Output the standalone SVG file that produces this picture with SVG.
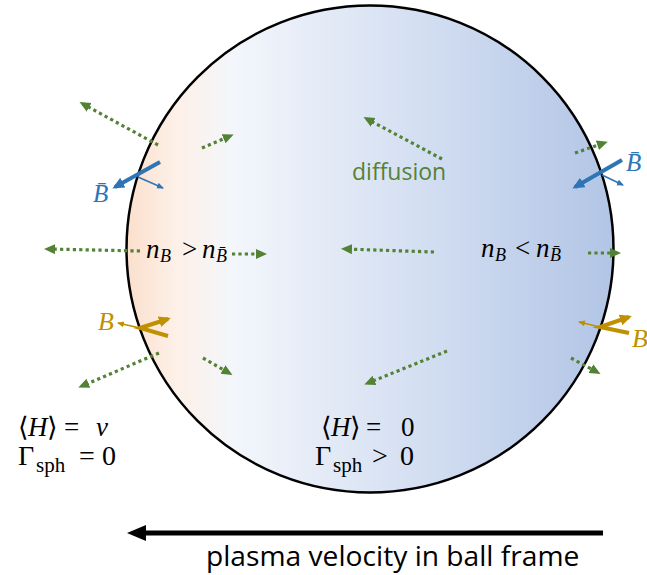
<svg xmlns="http://www.w3.org/2000/svg" width="647" height="575" viewBox="0 0 647 575">
<style>
.dot{fill:none;stroke:#548235;stroke-width:3.2;stroke-dasharray:3.2 3.2;marker-end:url(#gh)}
.math{font-family:"Liberation Serif","DejaVu Serif",serif}
.it{font-style:italic}
.sans{font-family:"Open Sans","Liberation Sans",sans-serif}
</style>
<defs>
<linearGradient id="ballGrad" gradientUnits="userSpaceOnUse" x1="126" y1="0" x2="614" y2="0">
<stop offset="0" stop-color="#fbdfcc"/>
<stop offset="0.1" stop-color="#fdf0e7"/>
<stop offset="0.22" stop-color="#f3f6fb"/>
<stop offset="0.55" stop-color="#d8e2f3"/>
<stop offset="1" stop-color="#b2c5e6"/>
</linearGradient>
<marker id="gh" markerUnits="userSpaceOnUse" markerWidth="14" markerHeight="14" refX="7" refY="5" orient="auto"><path d="M0,0 L11,5 L0,10 z" fill="#548235"/></marker>
<marker id="bh" markerUnits="userSpaceOnUse" markerWidth="16" markerHeight="16" refX="9" refY="5.5" orient="auto"><path d="M0,0 L12,5.5 L0,11 z" fill="#2e75b6"/></marker>
<marker id="bhs" markerUnits="userSpaceOnUse" markerWidth="10" markerHeight="10" refX="6" refY="3" orient="auto"><path d="M0,0 L7,3 L0,6 z" fill="#2e75b6"/></marker>
<marker id="yh" markerUnits="userSpaceOnUse" markerWidth="16" markerHeight="16" refX="9" refY="5.5" orient="auto"><path d="M0,0 L12,5.5 L0,11 z" fill="#bf9000"/></marker>
<marker id="yhs" markerUnits="userSpaceOnUse" markerWidth="10" markerHeight="10" refX="6" refY="3" orient="auto"><path d="M0,0 L7,3 L0,6 z" fill="#bf9000"/></marker>
</defs>
<rect width="647" height="575" fill="#fff"/>

<g id="ball">
<circle cx="370" cy="249" r="243.5" fill="url(#ballGrad)" stroke="#000" stroke-width="2.5"/>
</g>

<g id="connectors">
<path class="dot" d="M158,145 L83,104"/>
<path class="dot" d="M202,148 L230,136"/>
<path class="dot" d="M140,251 L48,249"/>
<path class="dot" d="M232,254 L263,254"/>
<path class="dot" d="M434,252 L345,249"/>
<path class="dot" d="M588,253 L617,253"/>
<path class="dot" d="M575,153 L604,143"/>
<path class="dot" d="M442,159 L367,119"/>
<path class="dot" d="M159,353 L82,386"/>
<path class="dot" d="M203,358 L229,373"/>
<path class="dot" d="M447,351 L368,383"/>
<path class="dot" d="M571,358 L597,372"/>

<path d="M160,162 L115,187" stroke="#2e75b6" stroke-width="4" fill="none" marker-end="url(#bh)"/>
<path d="M138,177 L163,188" stroke="#2e75b6" stroke-width="1.5" fill="none" marker-end="url(#bhs)"/>
<path d="M622,160 L575,187" stroke="#2e75b6" stroke-width="4" fill="none" marker-end="url(#bh)"/>
<path d="M602,175 L623,185" stroke="#2e75b6" stroke-width="1.5" fill="none" marker-end="url(#bhs)"/>

<path d="M168,336 L140,328 L168,319" stroke="#bf9000" stroke-width="4" fill="none" marker-end="url(#yh)"/>
<path d="M140,328 L118,323" stroke="#bf9000" stroke-width="1.5" fill="none" marker-end="url(#yhs)"/>
<path d="M629,333 L600,327 L629,317" stroke="#bf9000" stroke-width="4" fill="none" marker-end="url(#yh)"/>
<path d="M600,327 L579,322" stroke="#bf9000" stroke-width="1.5" fill="none" marker-end="url(#yhs)"/>

<g id="velocity-arrow">
<line x1="603" y1="533" x2="142" y2="533" stroke="#000" stroke-width="5"/>
<path d="M127,533 L146,525 L146,541 z" fill="#000"/>
</g>
</g>

<g id="labels">
<text class="sans" x="352" y="180" font-size="23" fill="#548235">diffusion</text>

<text class="math it" x="93" y="202" font-size="25" fill="#2e75b6">B&#x304;</text>
<text class="math it" x="626" y="171" font-size="25" fill="#2e75b6">B&#x304;</text>
<text class="math it" x="98" y="330" font-size="26" fill="#bf9000">B</text>
<text class="math it" x="632" y="347" font-size="26" fill="#bf9000">B</text>

<text class="math" font-size="27"><tspan class="it" x="146" y="258">n</tspan><tspan class="it" x="160" y="262" font-size="18">B</tspan><tspan x="182" y="258">&gt;</tspan><tspan class="it" x="202" y="258">n</tspan><tspan class="it" x="216" y="262" font-size="18">B&#x304;</tspan></text>
<text class="math" font-size="27"><tspan class="it" x="481" y="257">n</tspan><tspan class="it" x="495" y="261" font-size="18">B</tspan><tspan x="515" y="257">&lt;</tspan><tspan class="it" x="536" y="257">n</tspan><tspan class="it" x="550" y="261" font-size="18">B&#x304;</tspan></text>

<text class="math" font-size="27"><tspan x="18" y="436">&#x27E8;</tspan><tspan class="it" x="28" y="436">H</tspan><tspan x="47" y="436">&#x27E9;</tspan><tspan x="64" y="436">=</tspan><tspan class="it" x="96" y="436">v</tspan></text>
<text class="math" font-size="28"><tspan x="18" y="465">&#x393;</tspan><tspan x="36" y="472" font-size="21">sph</tspan><tspan x="79" y="465">=</tspan><tspan x="102" y="465">0</tspan></text>

<text class="math" font-size="27"><tspan x="321" y="436">&#x27E8;</tspan><tspan class="it" x="331" y="436">H</tspan><tspan x="350" y="436">&#x27E9;</tspan><tspan x="366" y="436">=</tspan><tspan x="401" y="436">0</tspan></text>
<text class="math" font-size="28"><tspan x="315" y="465">&#x393;</tspan><tspan x="333" y="472" font-size="21">sph</tspan><tspan x="372" y="465">&gt;</tspan><tspan x="400" y="465">0</tspan></text>

<text class="sans" x="206" y="566" font-size="28.2">plasma velocity in ball frame</text>
</g>
</svg>
